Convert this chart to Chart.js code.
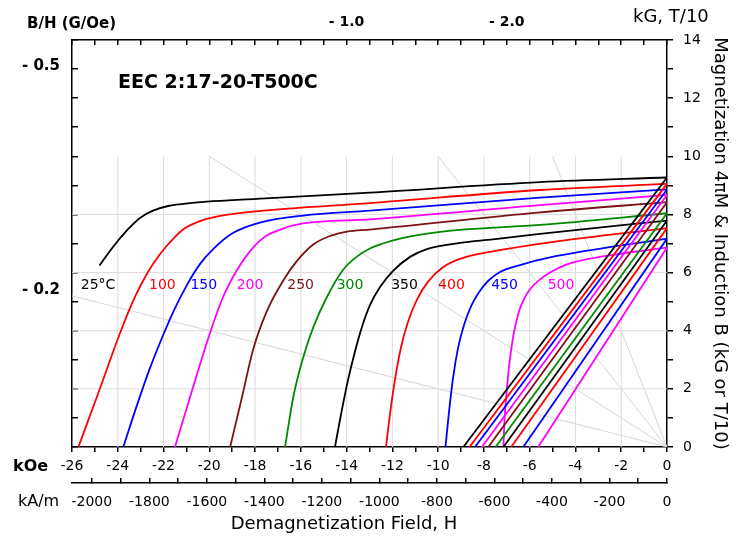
<!DOCTYPE html>
<html>
<head>
<meta charset="utf-8">
<script src="https://cdn.jsdelivr.net/npm/chart.js@4.4.1/dist/chart.umd.min.js"></script>
<style>
  html, body { margin: 0; padding: 0; background: #fff; }
  #wrap { width: 737px; height: 537px; position: relative; }
</style>
</head>
<body>
<div id="wrap"><canvas id="bh-chart"></canvas></div>
<script>
// temperatures and their curve colours
const temps = ["25°C", "100", "150", "200", "250", "300", "350", "400", "450", "500"];
const colors = ["#000000", "#ff0000", "#0000ff", "#ff00ff", "#7a1414", "#008a00",
                "#000000", "#ff0000", "#0000ff", "#ff00ff"];

// intrinsic curves 4πM (kG) vs H (kOe)
const h25  = [-24.80, -24.21, -23.60, -23.03, -22.46, -21.80, -20.84, -17.35, -12.98, -5.55, 0];
const m25  = [6.24, 6.88, 7.45, 7.88, 8.13, 8.29, 8.39, 8.56, 8.75, 9.11, 9.27];
const h100 = [-25.72, -24.77, -23.90, -23.25, -22.68, -22.15, -21.63, -21.06, -20.41, -19.53, -17.35, -12.98, -5.55, 0];
const m100 = [0, 2.03, 3.92, 5.16, 6.02, 6.64, 7.12, 7.53, 7.77, 7.95, 8.15, 8.39, 8.84, 9.05];
const h150 = [-23.76, -23.16, -22.59, -22.07, -21.54, -20.98, -20.41, -19.79, -18.97, -17.79, -15.91, -12.98, -5.55, 0];
const m150 = [0, 1.44, 2.72, 3.75, 4.71, 5.57, 6.29, 6.84, 7.36, 7.72, 7.96, 8.13, 8.58, 8.86];
const h200 = [-21.50, -20.84, -19.97, -19.40, -18.79, -18.22, -17.61, -16.91, -15.91, -12.98, -5.55, 0];
const m200 = [0, 1.72, 3.92, 5.16, 6.09, 6.74, 7.21, 7.48, 7.69, 7.83, 8.32, 8.67];
const h250 = [-19.09, -18.57, -18.09, -17.48, -16.78, -16.17, -15.47, -14.72, -13.98, -12.98, -5.55, 0];
const m250 = [0, 1.72, 3.34, 4.68, 5.71, 6.40, 6.96, 7.26, 7.41, 7.48, 8.07, 8.42];
const h300 = [-16.69, -16.33, -15.89, -15.45, -14.86, -14.16, -13.55, -12.98, -12.41, -11.67, -10.49, -9.04, -5.55, 0];
const m300 = [0, 1.72, 3.10, 4.13, 5.16, 6.09, 6.55, 6.83, 7.00, 7.17, 7.34, 7.47, 7.64, 8.04];
const h350 = [-14.51, -14.25, -13.94, -13.64, -13.33, -12.98, -12.54, -11.98, -11.23, -10.49, -9.04, -7.60, -5.55, 0];
const m350 = [0, 1.10, 2.30, 3.27, 4.13, 4.88, 5.50, 6.05, 6.54, 6.81, 7.02, 7.14, 7.33, 7.79];
const h400 = [-12.28, -12.11, -11.89, -11.62, -11.32, -10.93, -10.45, -9.79, -9.05, -7.60, -5.11, 0];
const m400 = [0, 1.10, 2.30, 3.44, 4.30, 5.06, 5.68, 6.18, 6.47, 6.73, 7.04, 7.53];
const h450 = [-9.68, -9.55, -9.35, -9.13, -8.87, -8.56, -8.21, -7.82, -7.30, -6.42, -5.11, 0];
const m450 = [0, 1.03, 2.37, 3.41, 4.20, 4.85, 5.33, 5.71, 6.02, 6.26, 6.52, 7.17];
const h500 = [-7.15, -7.10, -7.01, -6.88, -6.71, -6.49, -6.23, -5.94, -5.55, -5.11, -4.37, -3.37, -2.36, -1.18, 0];
const m500 = [0, 0.93, 1.86, 2.92, 3.85, 4.61, 5.12, 5.47, 5.76, 6.00, 6.28, 6.48, 6.61, 6.74, 6.86];

// normal curves B: remanence at H=0 and the field where B reaches 0
const br       = [9.27, 9.05, 8.86, 8.67, 8.42, 8.04, 7.79, 7.53, 7.17, 6.86];
const hAtZeroB = [-8.90, -8.63, -8.39, -8.09, -7.81, -7.49, -7.15, -6.81, -6.28, -5.63];

// light grid and permeance (B/H) lines
const gridH = [-24, -22, -20, -18, -16, -14, -12, -10, -8, -6, -4, -2];
const gridB = [2, 4, 6, 8];
const gridTop = 10;
const loadLineH = [-26, -20, -10, -5];
const loadLineB = [5.2, 10, 10, 10];

// B/H tick labels
const topBH = ["- 1.0", "- 2.0"];
const topBHAt = [-14, -7];
const leftBH = ["- 0.5", "- 0.2"];
const leftBHAt = [13.1, 5.4];

// where the temperature labels sit (kOe, kG)
const tempLabelH = [-24.86, -22.05, -20.24, -18.22, -16.01, -13.85, -11.47, -9.42, -7.10, -4.63];
const tempLabelB = 5.57;

const KAM_PER_KOE = 79.5775;
const FONT = '"DejaVu Sans"';

const intrinsicH = [h25, h100, h150, h200, h250, h300, h350, h400, h450, h500];
const intrinsicM = [m25, m100, m150, m200, m250, m300, m350, m400, m450, m500];

const pts = (hs, bs) => hs.map((h, i) => ({ x: h, y: bs[i] }));

const datasets = [];
temps.forEach((t, i) => {
  datasets.push({
    label: "4πM " + t,
    data: pts(intrinsicH[i], intrinsicM[i]),
    borderColor: colors[i],
    borderWidth: 1.8,
    cubicInterpolationMode: "monotone",
  });
  datasets.push({
    label: "B " + t,
    data: [{ x: hAtZeroB[i], y: 0 }, { x: 0, y: br[i] }],
    borderColor: colors[i],
    borderWidth: 1.8,
  });
});
gridH.forEach(h => datasets.push({
  data: [{ x: h, y: 0 }, { x: h, y: gridTop }],
  borderColor: "#dcdcdc", borderWidth: 1, order: 2,
}));
gridB.forEach(b => datasets.push({
  data: [{ x: -26, y: b }, { x: 0, y: b }],
  borderColor: "#dcdcdc", borderWidth: 1, order: 2,
}));
loadLineH.forEach((h, i) => datasets.push({
  data: [{ x: 0, y: 0 }, { x: h, y: loadLineB[i] }],
  borderColor: "#d6d6d6", borderWidth: 1, order: 2,
}));
datasets.forEach(d => {
  d.showLine = true;
  d.pointRadius = 0;
  d.fill = false;
});

const annotations = {
  id: "annotations",
  afterDraw(chart) {
    const { ctx, scales: { x, y } } = chart;
    const put = (text, px, py, font, align, color) => {
      ctx.font = font;
      ctx.textAlign = align || "left";
      ctx.textBaseline = "middle";
      ctx.fillStyle = color || "#000";
      ctx.fillText(text, px, py);
    };
    ctx.save();
    temps.forEach((t, i) => {
      put(t, x.getPixelForValue(tempLabelH[i]), y.getPixelForValue(tempLabelB),
        "14px " + FONT, "center", colors[i]);
    });
    leftBH.forEach((t, i) => put(t, 60, y.getPixelForValue(leftBHAt[i]), "bold 15px " + FONT, "right"));
    put("EEC 2:17-20-T500C", 118, 83, "bold 19px " + FONT);
    put("B/H (G/Oe)", 27, 24, "bold 15px " + FONT);
    put("kG, T/10", 633, 17, "18px " + FONT);
    put("kOe", 13, 467, "bold 16px " + FONT);
    put("kA/m", 18, 502, "16px " + FONT);
    put("Demagnetization Field, H", 344, 524, "18px " + FONT, "center");
    ctx.restore();
  },
};

const axisLine = { display: true, color: "#000", width: 1.5 };
const tickFont = { family: FONT, size: 14 };

new Chart(document.getElementById("bh-chart"), {
  type: "scatter",
  data: { datasets },
  options: {
    responsive: true,
    maintainAspectRatio: false,
    animation: false,
    plugins: { legend: { display: false }, tooltip: { enabled: false } },
    scales: {
      x: {
        type: "linear", axis: "x", position: "bottom", min: -26, max: 0, weight: 0,
        border: axisLine,
        grid: { drawOnChartArea: false, color: "#000", lineWidth: 1.5, tickLength: 5 },
        ticks: {
          stepSize: 1, autoSkip: false, maxRotation: 0, padding: 6, color: "#000", font: tickFont,
          callback: v => (v % 2 === 0 ? String(v) : ""),
        },
        afterFit: s => { s.height = 36; },
      },
      xKam: {
        type: "linear", axis: "x", position: "bottom", min: -26 * KAM_PER_KOE, max: 0, weight: 1,
        border: axisLine,
        grid: { drawOnChartArea: false, color: "#000", lineWidth: 1.5, tickLength: -5 },
        ticks: {
          stepSize: 100, includeBounds: false, autoSkip: false, maxRotation: 0, padding: 16,
          color: "#000", font: tickFont,
          callback: v => (v % 200 === 0 ? String(v) : ""),
        },
        afterFit: s => { s.height = 54; },
      },
      xTop: {
        type: "linear", axis: "x", position: "top", min: -26, max: 0,
        border: axisLine,
        grid: { drawOnChartArea: false, color: "#000", lineWidth: 1.5, tickLength: -5 },
        ticks: {
          stepSize: 1, autoSkip: false, maxRotation: 0, padding: 14, color: "#000",
          font: { family: FONT, size: 14, weight: "bold" },
          callback: v => { const i = topBHAt.indexOf(v); return i >= 0 ? topBH[i] : ""; },
        },
        afterFit: s => { s.height = 40; },
      },
      y: {
        type: "linear", axis: "y", position: "right", min: 0, max: 14,
        border: axisLine,
        grid: { drawOnChartArea: false, color: "#000", lineWidth: 1.5, tickLength: 6 },
        ticks: {
          stepSize: 1, autoSkip: false, padding: 10, color: "#000", font: tickFont,
          callback: v => (v % 2 === 0 ? String(v) : ""),
        },
        title: {
          display: true, text: "Magnetization 4πM & Induction B (kG or T/10)", color: "#000",
          font: { family: FONT, size: 18 }, padding: { top: 7, bottom: 0 },
        },
        afterFit: s => { s.width = 70; },
      },
      yLeft: {
        type: "linear", axis: "y", position: "left", min: 0, max: 14,
        border: axisLine,
        grid: { drawOnChartArea: false, color: "#000", lineWidth: 1.5, tickLength: -6 },
        ticks: { stepSize: 1, display: false },
        afterFit: s => { s.width = 72; },
      },
    },
  },
  plugins: [annotations],
});
</script>
</body>
</html>
